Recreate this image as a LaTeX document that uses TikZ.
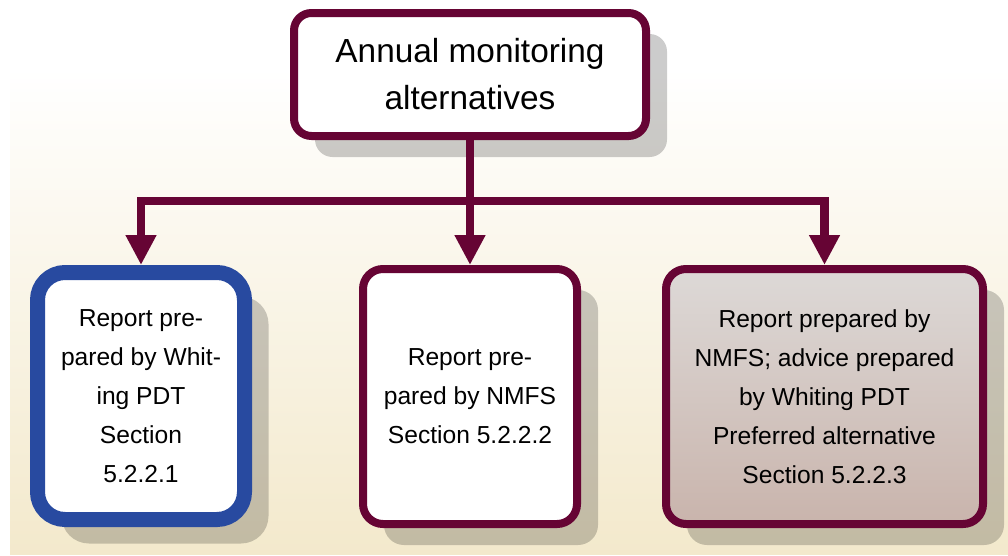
\documentclass[tikz,border=0pt]{standalone}
\usepackage{fontspec}
\setmainfont{Liberation Sans}
\usetikzlibrary{arrows.meta,shadows}
\definecolor{wine}{RGB}{102,4,52}
\definecolor{navy}{RGB}{40,74,160}
\definecolor{cream}{RGB}{243,233,204}
\definecolor{greytop}{RGB}{221,217,215}
\definecolor{rosebot}{RGB}{201,180,172}
\tikzset{box/.style={draw=wine, line width=.16cm, fill=white, rounded corners=.4cm, align=center,
  font=\fontsize{14}{22.2}\selectfont}}
\tikzset{boxshadow/.style={drop shadow={shadow xshift=#1, shadow yshift=-#1, fill=black, opacity=.2}},
  boxshadow/.default=.42cm}
\tikzset{link/.style={wine, line width=.17cm}}
\tikzset{arrowhead/.style={-{Triangle[width=.58cm,length=.6cm]}}}

\begin{document}
\begin{tikzpicture}
\useasboundingbox (0,0) rectangle (20.16,11.1);
\shade[top color=white, bottom color=cream] (0.2,0.02) rectangle (20.16,9.74);

\node[box, boxshadow, rounded corners=.35cm, minimum width=7.04cm, minimum height=2.46cm,
  font=\fontsize{19}{26.7}\selectfont] (annual) at (9.4,9.61) {Annual monitoring\\alternatives};
\node[box, boxshadow=.48cm, draw=navy, line width=.3cm, rounded corners=.55cm, minimum width=4.14cm,
  minimum height=4.94cm] (whiting) at (2.82,3.18)
  {Report pre-\\pared by Whit-\\ing PDT\\Section\\5.2.2.1};
\node[box, boxshadow, minimum width=4.28cm, minimum height=5.1cm] (nmfs) at (9.4,3.17)
  {Report pre-\\pared by NMFS\\Section 5.2.2.2};
\node[box, boxshadow, top color=greytop, bottom color=rosebot, minimum width=6.34cm, minimum height=5.1cm] (advice) at (16.49,3.17)
  {Report prepared by\\NMFS; advice prepared\\by Whiting PDT\\Preferred alternative\\Section 5.2.2.3};

\coordinate (split) at (9.4,7.08);
\draw[link, arrowhead] (annual) -- (split) -| (whiting);
\draw[link, arrowhead] (split) -| (advice);
\draw[link, arrowhead] (split) -- (nmfs);
\end{tikzpicture}
\end{document}
